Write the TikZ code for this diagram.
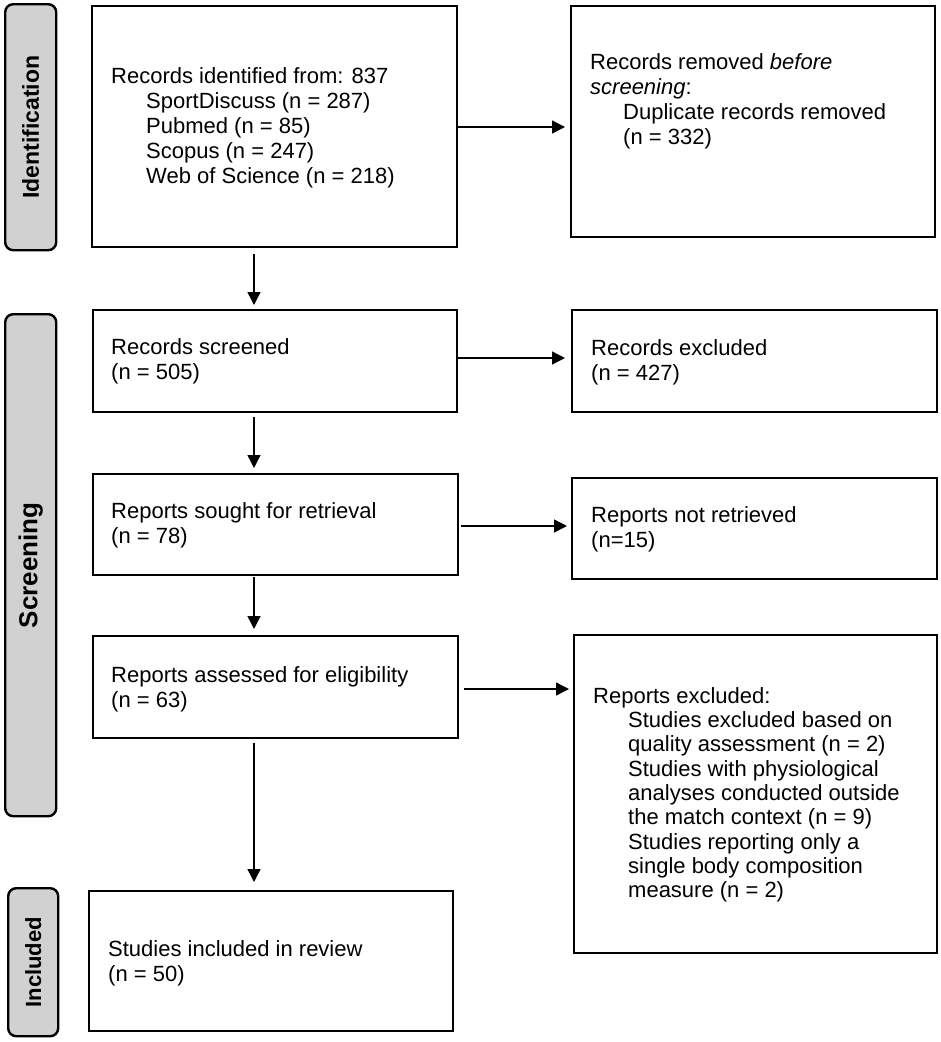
\documentclass[tikz,border=0pt]{standalone}
\usepackage{fontspec}
\setmainfont{Liberation Sans}
\usetikzlibrary{arrows.meta}
\tikzset{
  box/.style={draw, line width=2.4pt, inner sep=0pt, anchor=north west, fill=white},
  bar/.style={draw, line width=2.4pt, rounded corners=8pt, fill=black!18, inner sep=0pt, anchor=north west},
  barlabel/.style={rotate=90, font=\fontsize{22}{25}\selectfont\bfseries, inner sep=0pt},
  txt/.style={anchor=north west, inner sep=0pt, align=left, font=\fontsize{22}{25}\selectfont},
  arr/.style={-{Triangle[length=13pt,width=13pt]}, line width=1.4pt},
}
\begin{document}
\begin{tikzpicture}[x=1pt,y=-1pt]
\useasboundingbox (0,0) rectangle (941,1042);
% side bars
\node[bar, minimum width=51pt, minimum height=246pt] (bid) at (4,3) {};
\node[barlabel, font=\fontsize{23}{25}\selectfont\bfseries] at (bid.center) {Identification};
\node[bar, minimum width=51pt, minimum height=502pt] (bscr) at (4,313) {};
\node[barlabel, font=\fontsize{26}{28}\selectfont\bfseries] at (bscr.center) {Screening};
\node[bar, minimum width=50pt, minimum height=148pt] (binc) at (7,887) {};
\node[barlabel] at (binc.center) {Included};
% boxes
\node[box, minimum width=365pt, minimum height=241pt] (id) at (91,5) {};
\node[box, minimum width=364pt, minimum height=231pt] (rem) at (570,5) {};
\node[box, minimum width=364pt, minimum height=102pt] (scr) at (92,309) {};
\node[box, minimum width=365pt, minimum height=102pt] (exc) at (571,309) {};
\node[box, minimum width=365pt, minimum height=101pt] (sou) at (92,473) {};
\node[box, minimum width=365pt, minimum height=101pt] (nret) at (571,477) {};
\node[box, minimum width=365pt, minimum height=102pt] (ass) at (92,635) {};
\node[box, minimum width=363pt, minimum height=318pt] (rexc) at (573,634) {};
\node[box, minimum width=364pt, minimum height=140pt] (inc) at (88,890) {};
% texts
\node[txt] (tid) at (111,65.5) {\strut Records identified from: 837\\
  \hspace*{35pt}SportDiscuss (n = 287)\\
  \hspace*{35pt}Pubmed (n = 85)\\
  \hspace*{35pt}Scopus (n = 247)\\
  \hspace*{35pt}Web of Science (n = 218)};
\node[txt] (trem) at (590,52) {\strut Records removed \textit{before}\\
  \textit{screening}:\\
  \hspace*{33pt}Duplicate records removed\\
  \hspace*{33pt}(n = 332)};
\node[txt] (tscr) at (111,337) {\strut Records screened\\(n = 505)};
\node[txt] (texc) at (591,337.5) {\strut Records excluded\\(n = 427)};
\node[txt] (tsou) at (111,501) {\strut Reports sought for retrieval\\(n = 78)};
\node[txt] (tnret) at (591,504.5) {\strut Reports not retrieved\\(n=15)};
\node[txt] (tass) at (111,664.5) {\strut Reports assessed for eligibility\\(n = 63)};
\node[txt, font=\fontsize{22}{24.3}\selectfont] (trexc) at (593,686) {\strut Reports excluded:\\
  \hspace*{35pt}Studies excluded based on\\
  \hspace*{35pt}quality assessment (n = 2)\\
  \hspace*{35pt}Studies with physiological\\
  \hspace*{35pt}analyses conducted outside\\
  \hspace*{35pt}the match context (n = 9)\\
  \hspace*{35pt}Studies reporting only a\\
  \hspace*{35pt}single body composition\\
  \hspace*{35pt}measure (n = 2)};
\node[txt] (tinc) at (108,938.5) {\strut Studies included in review\\(n = 50)};
% connector guides
\coordinate (vx) at (254,0);
\coordinate (h1) at (0,127);
\coordinate (h2) at (0,358);
\coordinate (h3) at (0,526);
\coordinate (h4) at (0,689);
% vertical arrows
\draw[arr, shorten <=6pt, shorten >=4pt] (id.south -| vx) -- (scr.north -| vx);
\draw[arr, shorten <=4pt, shorten >=5pt] (scr.south -| vx) -- (sou.north -| vx);
\draw[arr, shorten <=1pt, shorten >=6pt] (sou.south -| vx) -- (ass.north -| vx);
\draw[arr, shorten <=4pt, shorten >=8pt] (ass.south -| vx) -- (inc.north -| vx);
% horizontal arrows
\draw[arr, shorten >=5pt] (id.east |- h1) -- (rem.west |- h1);
\draw[arr, shorten >=6pt] (scr.east |- h2) -- (exc.west |- h2);
\draw[arr, shorten <=2pt, shorten >=4pt] (sou.east |- h3) -- (nret.west |- h3);
\draw[arr, shorten <=5pt, shorten >=4pt] (ass.east |- h4) -- (rexc.west |- h4);
\end{tikzpicture}
\end{document}
